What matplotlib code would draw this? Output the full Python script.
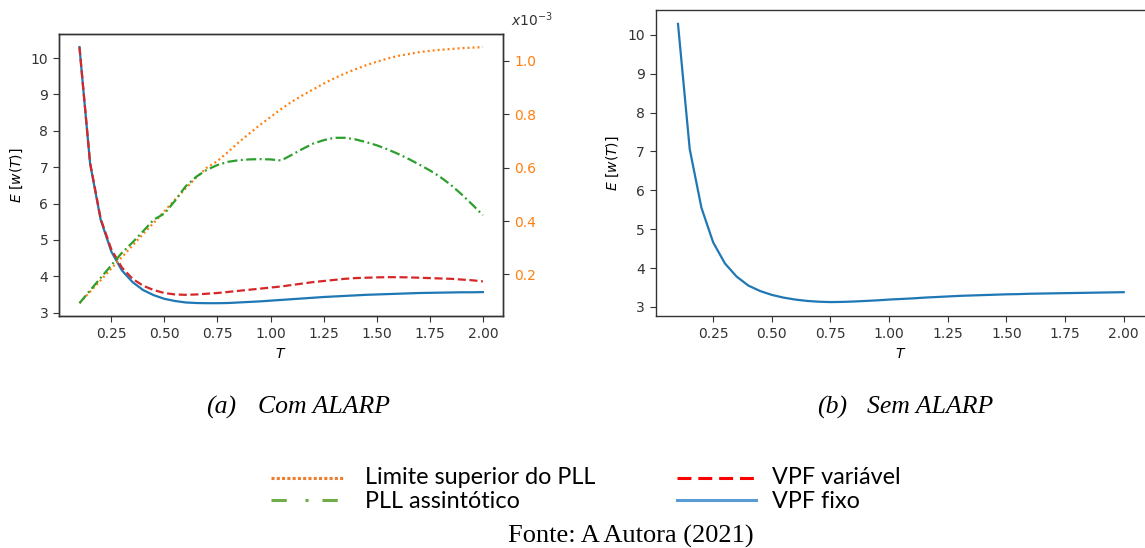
import matplotlib
matplotlib.use("Agg")
import matplotlib.pyplot as plt
from matplotlib.lines import Line2D

# ---- data ----
T = [0.10, 0.15, 0.20, 0.25, 0.30, 0.35, 0.40, 0.45, 0.50, 0.55,
     0.60, 0.65, 0.70, 0.75, 0.80, 0.85, 0.90, 0.95, 1.00, 1.05,
     1.10, 1.15, 1.20, 1.25, 1.30, 1.35, 1.40, 1.45, 1.50, 1.55,
     1.60, 1.65, 1.70, 1.75, 1.80, 1.85, 1.90, 1.95, 2.00]

# (a) Com ALARP - E[w(T)]
vpf_fixo_com = [10.30, 7.10, 5.55, 4.68, 4.16, 3.84, 3.62, 3.48, 3.38, 3.32,
                3.28, 3.265, 3.26, 3.26, 3.265, 3.28, 3.295, 3.31, 3.33, 3.35,
                3.37, 3.39, 3.41, 3.43, 3.445, 3.46, 3.475, 3.49, 3.50, 3.51,
                3.52, 3.53, 3.54, 3.545, 3.55, 3.555, 3.56, 3.56, 3.565]
vpf_variavel = [10.30, 7.12, 5.58, 4.74, 4.24, 3.93, 3.74, 3.62, 3.54, 3.50,
                3.49, 3.50, 3.52, 3.54, 3.57, 3.60, 3.63, 3.66, 3.69, 3.72,
                3.76, 3.80, 3.84, 3.87, 3.90, 3.93, 3.95, 3.96, 3.97, 3.975,
                3.975, 3.97, 3.96, 3.95, 3.94, 3.93, 3.91, 3.89, 3.86]

# (a) Com ALARP - PLL (x1e-3)
pll_limite = [0.092, 0.135, 0.178, 0.222, 0.265, 0.308, 0.352, 0.393, 0.437, 0.480,
              0.522, 0.563, 0.600, 0.625, 0.659, 0.695, 0.728, 0.760, 0.790, 0.820,
              0.847, 0.871, 0.893, 0.915, 0.935, 0.953, 0.969, 0.984, 0.997, 1.009,
              1.019, 1.026, 1.033, 1.038, 1.042, 1.045, 1.048, 1.050, 1.052]
pll_assintotico = [0.092, 0.140, 0.187, 0.234, 0.281, 0.320, 0.362, 0.405, 0.428, 0.476,
                   0.530, 0.566, 0.592, 0.610, 0.622, 0.628, 0.631, 0.632, 0.631, 0.627,
                   0.648, 0.670, 0.690, 0.703, 0.712, 0.712, 0.706, 0.696, 0.684, 0.669,
                   0.652, 0.633, 0.612, 0.590, 0.565, 0.535, 0.500, 0.462, 0.422]

# (b) Sem ALARP
vpf_fixo_sem = [10.28, 7.06, 5.55, 4.66, 4.12, 3.78, 3.55, 3.41, 3.31, 3.24,
                3.19, 3.155, 3.135, 3.125, 3.13, 3.14, 3.155, 3.17, 3.19, 3.205,
                3.22, 3.24, 3.255, 3.27, 3.285, 3.295, 3.305, 3.315, 3.325, 3.33,
                3.34, 3.345, 3.35, 3.355, 3.36, 3.365, 3.37, 3.375, 3.38]

xticks = [0.25, 0.50, 0.75, 1.00, 1.25, 1.50, 1.75, 2.00]

plt.rcParams['lines.scale_dashes'] = False
plt.rcParams['font.size'] = 10
plt.rcParams['axes.linewidth'] = 1.0
plt.rcParams['xtick.major.size'] = 4.5
plt.rcParams['ytick.major.size'] = 4.5
plt.rcParams['xtick.color'] = '#333333'
plt.rcParams['ytick.color'] = '#333333'

W, H = 1145, 548
fig = plt.figure(figsize=(W / 100, H / 100), dpi=100)


def px_axes(l, t, r, b):
    return fig.add_axes([l / W, 1 - b / H, (r - l) / W, (b - t) / H])


# Panel (a)
ax = px_axes(59.3, 34.3, 503, 316)
ax.plot(T, vpf_fixo_com, color='#1f77b4', lw=1.6)
ax.plot(T, vpf_variavel, color='#d62728', lw=1.6, ls=(0, (5.8, 2.6)))
ax.set_xticks(xticks)
ax.set_xlabel('$T$')
ax.set_ylabel('$E\\ [w(T)]$')
ax.spines[:].set_edgecolor('#333333')

ax2 = ax.twinx()
ax2.plot(T, pll_limite, color='#ff7f0e', lw=1.6, ls=(0, (1.4, 2.2)))
ax2.plot(T, pll_assintotico, color='#2ca02c', lw=1.6, ls=(0, (7.2, 2.5, 1.4, 2.5)))
ax2.set_yticks([0.2, 0.4, 0.6, 0.8, 1.0])
ax2.tick_params(axis='y', labelcolor='#ff7f0e')
ax2.spines[:].set_edgecolor('#333333')
fig.text(511 / W, 1 - 20 / H, '$x$10$^{-3}$', ha='left', va='center',
         fontsize=10, color='#333333')

# Panel (b)
bx = px_axes(655.7, 10, 1146, 316)
bx.plot(T, vpf_fixo_sem, color='#1f77b4', lw=1.6)
bx.set_xticks(xticks)
bx.set_xlabel('$T$')
bx.set_ylabel('$E\\ [w(T)]$')
bx.spines[:].set_edgecolor('#333333')

# captions
cap = dict(family='Liberation Serif', style='italic', fontsize=18.5, va='center', ha='left')
fig.text(206 / W, 1 - 407 / H, '(a)', **cap)
fig.text(258 / W, 1 - 407 / H, 'Com ALARP', **cap)
fig.text(817 / W, 1 - 407 / H, '(b)', **cap)
fig.text(867 / W, 1 - 407 / H, 'Sem ALARP', **cap)

# legend (drawn as in the document)
def key(x0, x1, y, color, ls):
    fig.add_artist(Line2D([x0 / W, x1 / W], [1 - y / H, 1 - y / H],
                          transform=fig.transFigure, color=color, lw=2.2, ls=ls))

key(271, 343, 478, '#ED7D31', (0, (2.2, 1.6)))
key(271, 343, 500, '#70AD47', (0, (11, 13.5, 2.2, 10)))
key(677, 756, 478, '#FF0000', (0, (10, 5)))
key(677, 756, 500, '#5B9BD5', '-')
leg = dict(family='Lato', fontsize=16.8, va='center', ha='left')
fig.text(365 / W, 1 - 477 / H, 'Limite superior do PLL', **leg)
fig.text(365 / W, 1 - 502 / H, 'PLL assintótico', **leg)
fig.text(772 / W, 1 - 477 / H, 'VPF variável', **leg)
fig.text(772 / W, 1 - 502 / H, 'VPF fixo', **leg)

fig.text(508 / W, 1 - 536 / H, 'Fonte: A Autora (2021)', family='Liberation Serif',
         fontsize=19, va='center', ha='left')

fig.savefig('out.png', dpi=100)
